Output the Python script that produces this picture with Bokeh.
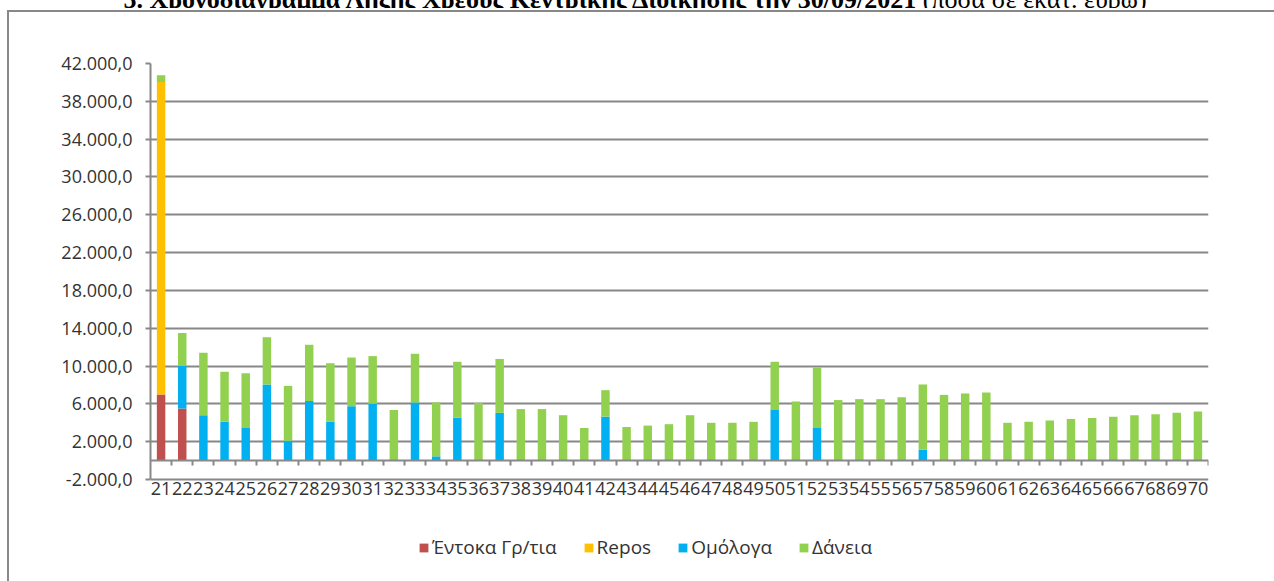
from bokeh.plotting import figure
from bokeh.layouts import column
from bokeh.models import (ColumnDataSource, Range1d, FixedTicker, LinearAxis, Legend,
                          LegendItem, Div, InlineStyleSheet)
from bokeh.core.properties import value
from bokeh.embed import file_html
from bokeh.resources import INLINE

# ---------------- data ----------------
years = list(range(21, 71))
year_labels = [str(y) for y in years]

entoka = [7000, 5500] + [0] * 48
repos = [33050] + [0] * 49
omologa = [0, 4500, 4800, 4100, 3450, 8050, 2100, 6300, 4100, 5750,
           6000, 0, 6150, 450, 4550, 0, 5050, 0, 0, 0,
           0, 4650, 0, 0, 0, 0, 0, 0, 0, 5350,
           0, 3450, 0, 0, 0, 0, 1150, 0, 0, 0,
           0, 0, 0, 0, 0, 0, 0, 0, 0, 0]
daneia = [710, 3500, 6600, 5300, 5800, 5000, 5800, 5950, 6200, 5150,
          5050, 5350, 5150, 5700, 5900, 6100, 5700, 5450, 5450, 4800,
          3450, 2800, 3550, 3700, 3850, 4800, 4000, 4000, 4100, 5100,
          6250, 6400, 6400, 6500, 6500, 6700, 6900, 6950, 7100, 7200,
          4000, 4100, 4250, 4400, 4500, 4650, 4800, 4900, 5050, 5200]

series_keys = ["entoka", "repos", "omologa", "daneia"]
series_names = ["Έντοκα Γρ/τια", "Repos", "Ομόλογα", "Δάνεια"]
series_colors = ["#C0504D", "#FFC000", "#00B0F0", "#92D050"]

y_ticks = [-2000, 2000, 6000, 10000, 14000, 18000, 22000, 26000, 30000, 34000, 38000, 42000]
y_tick_labels = ["-2.000,0", "2.000,0", "6.000,0", "10.000,0", "14.000,0", "18.000,0",
                 "22.000,0", "26.000,0", "30.000,0", "34.000,0", "38.000,0", "42.000,0"]

title_main = "5. Χρονοδιάγραμμα Λήξης Χρέους Κεντρικής Διοίκησης την 30/09/2021"
title_note = "(ποσά σε εκατ. ευρώ)"

GRID = "#888888"
TXT = "#333333"
FONT = "Open Sans"

# ---------------- layout geometry (pixels) ----------------
W, H_TITLE, H_FIG = 1274, 8, 573
F_LEFT, F_RIGHT, F_TOP = 150, 66, 55          # frame borders inside the figure
AXIS_PX = 416                                  # pixels from 42.000 to -2.000
Y_MIN_AXIS, Y_MAX_AXIS = y_ticks[0], y_ticks[-1]
frame_px = H_FIG - F_TOP
y_start = Y_MIN_AXIS - (frame_px - AXIS_PX) * (Y_MAX_AXIS - Y_MIN_AXIS) / AXIS_PX

# ---------------- title (sits above the chart border, top part cut) ----------------
title_div = Div(
    text=('<div style="position:absolute;left:-2px;top:-13px;width:%dpx;text-align:center;'
          'white-space:nowrap;font-family:\'Liberation Serif\';font-size:26px;line-height:26px;'
          'font-weight:bold;color:#000">%s <span style="font-weight:normal">%s</span></div>'
          % (W, title_main, title_note)),
    width=W, height=H_TITLE, margin=0,
    styles={"overflow": "hidden", "position": "relative"})

# ---------------- figure ----------------
p = figure(width=W, height=H_FIG,
           x_range=Range1d(20.5, 70.5), y_range=Range1d(y_start, Y_MAX_AXIS),
           output_backend="svg", toolbar_location=None,
           min_border_left=F_LEFT, min_border_right=F_RIGHT,
           min_border_top=F_TOP, min_border_bottom=0,
           outline_line_color=None, margin=0)

# chart-area border (left and top edges visible, the others run off the page)
p.stylesheets = [InlineStyleSheet(css="""
:host { position: relative; }
:host::after {
  content: ""; position: absolute; left: 7px; top: 2px; right: 0; bottom: 0;
  border-left: 2px solid #888888; border-top: 2px solid #888888;
  pointer-events: none;
}
""")]

src = ColumnDataSource(dict(x=years, entoka=entoka, repos=repos,
                            omologa=omologa, daneia=daneia))
rs = p.vbar_stack(series_keys, x="x", width=0.4, source=src,
                  fill_color=series_colors, line_color=None)

# category labels under the -2.000 line
lab_src = ColumnDataSource(dict(x=years, y=[Y_MIN_AXIS] * len(years), t=year_labels))
p.text(x="x", y="y", text="t", source=lab_src, text_align="center",
       text_baseline="middle", y_offset=9, text_font=value(FONT),
       text_font_size="18px", text_color=TXT)

p.xaxis.visible = False

# y axis
p.yaxis.ticker = FixedTicker(ticks=y_ticks)
p.yaxis.bounds = (Y_MIN_AXIS, Y_MAX_AXIS)
p.yaxis.major_label_overrides = dict(zip(y_ticks, y_tick_labels))
p.yaxis.axis_line_color = GRID
p.yaxis.axis_line_width = 2
p.yaxis.major_tick_line_color = GRID
p.yaxis.major_tick_line_width = 2
p.yaxis.major_tick_out = 5
p.yaxis.major_tick_in = 0
p.yaxis.minor_tick_line_color = None
p.yaxis.major_label_standoff = 13
p.yaxis.major_label_text_font = FONT
p.yaxis.major_label_text_font_size = "18px"
p.yaxis.major_label_text_color = TXT

p.xgrid.grid_line_color = None
p.ygrid.ticker = FixedTicker(ticks=y_ticks)
p.ygrid.grid_line_color = GRID
p.ygrid.grid_line_width = 2

# zero line with category-boundary tick marks
zero_axis = LinearAxis(fixed_location=0,
                       ticker=FixedTicker(ticks=[y + 0.5 for y in years]),
                       axis_line_color=GRID, axis_line_width=2,
                       major_tick_line_color=GRID, major_tick_line_width=2,
                       major_tick_in=5, major_tick_out=0,
                       minor_tick_line_color=None,
                       major_label_text_alpha=0, major_label_text_font_size="1px")
p.add_layout(zero_axis, "above")

# legend (inside the extended frame, below the plotted area)
legend = Legend(items=[LegendItem(label=n, renderers=[r]) for n, r in zip(series_names, rs)],
                orientation="horizontal", location=(268, 21),
                glyph_width=11, glyph_height=11, label_standoff=3, spacing=26,
                padding=0, margin=0, border_line_color=None, background_fill_alpha=0,
                label_text_font=FONT, label_text_font_size="19px", label_text_color=TXT)
p.add_layout(legend, "center")

layout = column(title_div, p, spacing=0, margin=0)
open("out.html", "w").write(file_html(layout, INLINE))
